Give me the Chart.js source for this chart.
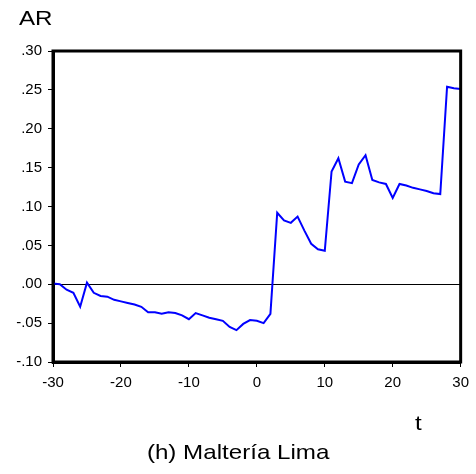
<!DOCTYPE html>
<html>
<head>
<meta charset="utf-8">
<script src="https://cdn.jsdelivr.net/npm/chart.js@4/dist/chart.umd.min.js"></script>
<style>
body { margin: 0; background: #fff; }
#wrap { position: relative; width: 476px; height: 474px; font-family: "Liberation Sans", Arial, sans-serif; color: #000; }
#myChart { position: absolute; left: 0; top: 0; }
.lbl { position: absolute; font-size: 21px; line-height: 1; white-space: nowrap; transform: scaleX(1.15); }
#ar { left: 19px; top: 7px; transform-origin: left top; }
#tl { left: 415px; top: 412px; transform-origin: left top; }
#cap { left: 0; width: 476px; top: 441px; text-align: center; transform-origin: 237px 0; }
</style>
</head>
<body>
<div id="wrap">
  <canvas id="myChart" width="476" height="474"></canvas>
  <div class="lbl" id="ar">AR</div>
  <div class="lbl" id="tl">t</div>
  <div class="lbl" id="cap">(h) Maltería Lima</div>
</div>
<script>
// event window, days around the announcement
var days = [-30, -29, -28, -27, -26, -25, -24, -23, -22, -21,
            -20, -19, -18, -17, -16, -15, -14, -13, -12, -11,
            -10, -9, -8, -7, -6, -5, -4, -3, -2, -1,
            0, 1, 2, 3, 4, 5, 6, 7, 8, 9,
            10, 11, 12, 13, 14, 15, 16, 17, 18, 19,
            20, 21, 22, 23, 24, 25, 26, 27, 28, 29, 30];

// abnormal returns
var ar = [0.001, 0.000, -0.007, -0.011, -0.029, 0.002, -0.011, -0.015, -0.016, -0.020,
          -0.022, -0.024, -0.026, -0.029, -0.036, -0.036, -0.038, -0.036, -0.037, -0.040,
          -0.045, -0.037, -0.040, -0.043, -0.045, -0.047, -0.055, -0.059, -0.051, -0.046,
          -0.047, -0.050, -0.038, 0.092, 0.082, 0.079, 0.087, 0.069, 0.052, 0.045,
          0.043, 0.145, 0.162, 0.132, 0.130, 0.154, 0.166, 0.134, 0.131, 0.129,
          0.111, 0.129, 0.127, 0.124, 0.122, 0.120, 0.117, 0.116, 0.254, 0.252, 0.251];

var xTicks = [-30, -20, -10, 0, 10, 20, 30];
var yTicks = [-0.10, -0.05, 0.00, 0.05, 0.10, 0.15, 0.20, 0.25, 0.30];

var points = days.map(function (d, i) { return { x: d, y: ar[i] }; });

// .30 / -.05 style labels
function fmt(v) {
    if (Math.abs(v) < 1e-9) return '.00';
    return v.toFixed(2).replace('0.', '.');
}

// box around the plot and the zero line
var frame = {
    id: 'frame',
    beforeDatasetsDraw: function (chart) {
        var c = chart.ctx, a = chart.chartArea;
        var y0 = chart.scales.y.getPixelForValue(0);
        c.save();
        c.strokeStyle = '#000';
        c.lineWidth = 1;
        c.beginPath();
        c.moveTo(a.left, Math.round(y0) + 0.5);
        c.lineTo(a.right, Math.round(y0) + 0.5);
        c.stroke();
        c.restore();
    },
    afterDatasetsDraw: function (chart) {
        var c = chart.ctx, a = chart.chartArea;
        c.save();
        c.strokeStyle = '#000';
        c.lineWidth = 3;
        c.strokeRect(a.left, a.top, a.right - a.left, a.bottom - a.top);
        c.restore();
    }
};

var tickFont = { family: '"Liberation Sans", Arial, sans-serif', size: 15 };

var ctx = document.getElementById('myChart').getContext('2d');
var chart = new Chart(ctx, {
    type: 'line',
    data: {
        datasets: [{
            data: points,
            borderColor: '#0000ff',
            borderWidth: 2,
            pointRadius: 0,
            tension: 0,
            fill: false
        }]
    },
    options: {
        responsive: false,
        devicePixelRatio: 1,
        animation: false,
        layout: { padding: { left: 0, top: 51, right: 14, bottom: 80 } },
        plugins: { legend: { display: false }, tooltip: { enabled: false } },
        scales: {
            x: {
                type: 'linear',
                min: -30,
                max: 30,
                afterFit: function (s) { s.height = 32; },
                afterBuildTicks: function (s) { s.ticks = xTicks.map(function (v) { return { value: v }; }); },
                ticks: {
                    color: '#000',
                    padding: 7,
                    maxRotation: 0,
                    font: tickFont,
                    callback: function (v) { return String(v); }
                },
                grid: { drawOnChartArea: false, drawTicks: true, tickLength: 5, color: '#000', lineWidth: 1 },
                border: { color: '#000', width: 3 }
            },
            y: {
                min: -0.1,
                max: 0.3,
                afterFit: function (s) { s.width = 53; },
                afterBuildTicks: function (s) { s.ticks = yTicks.map(function (v) { return { value: v }; }); },
                ticks: {
                    color: '#000',
                    padding: 6,
                    font: tickFont,
                    callback: function (v) { return fmt(v); }
                },
                grid: { drawOnChartArea: false, drawTicks: true, tickLength: 5, color: '#000', lineWidth: 1 },
                border: { color: '#000', width: 3 }
            }
        }
    },
    plugins: [frame]
});
</script>
</body>
</html>
